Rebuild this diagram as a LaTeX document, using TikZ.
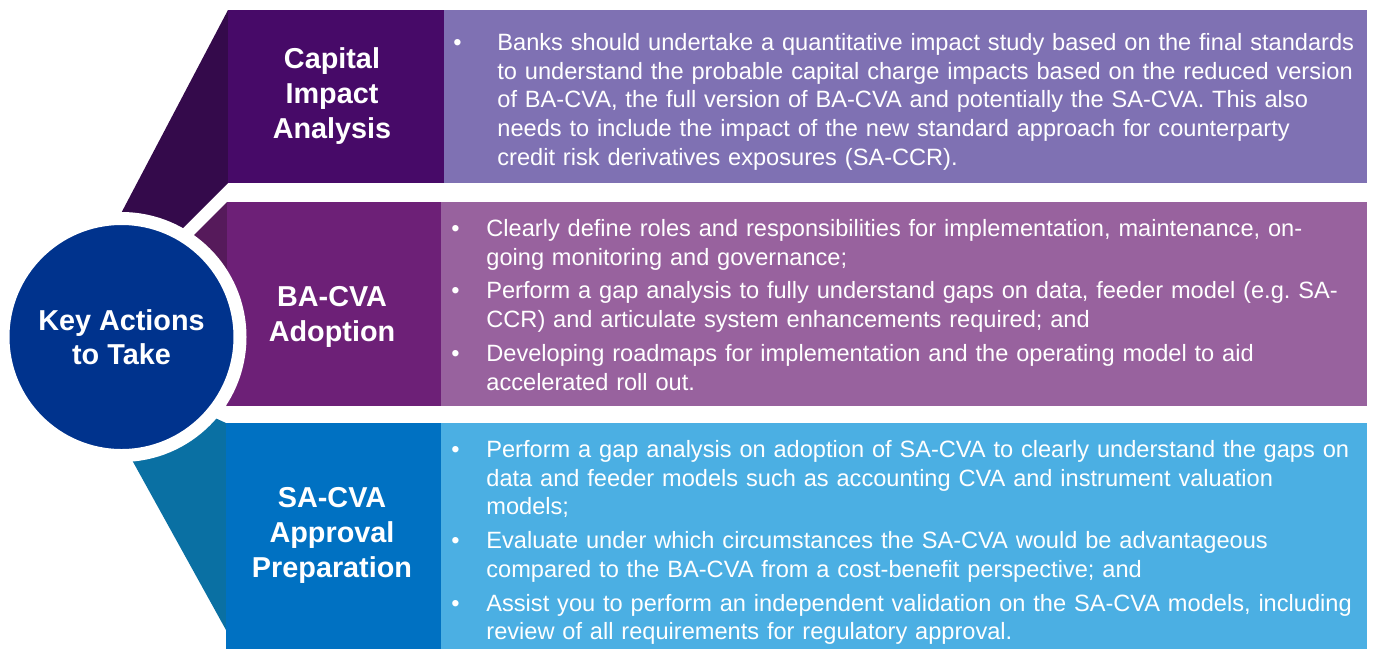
\documentclass[tikz,border=0pt]{standalone}
\usepackage{fontspec}
\setmainfont{Liberation Sans}
\usetikzlibrary{positioning}

\definecolor{kpurple}{HTML}{470A68}
\definecolor{kpurplelight}{HTML}{6D2077}
\definecolor{kblue}{HTML}{00338D}
\definecolor{kmidblue}{HTML}{0071C2}
\definecolor{violetbody}{HTML}{7F71B3}
\definecolor{purplebody}{HTML}{98629E}
\definecolor{bluebody}{HTML}{4BAFE3}
\definecolor{funneltop}{HTML}{340A4B}
\definecolor{funnelmid}{HTML}{561A5B}
\definecolor{funnellow}{HTML}{0A70A3}

% one bullet with its lines, hanging indent #1
\newcommand{\keypoint}[2]{\makebox[#1][l]{\textbullet}\begin{tabular}[t]{@{}l@{}}#2\end{tabular}}

\frenchspacing

\begin{document}
\begin{tikzpicture}[
    x=0.5pt, y=-0.5pt,
    head/.style={
        rectangle,
        anchor=north west,
        inner sep=0pt,
        outer sep=0pt
    },
    body/.style={
        rectangle,
        inner sep=0pt,
        outer sep=0pt
    },
    headtext/.style={
        text=white,
        align=center,
        font=\bfseries\fontsize{14.4}{17.5}\selectfont
    },
    points/.style={
        text=white,
        anchor=north west,
        inner sep=0pt,
        text width=460pt,
        align=left,
        font=\fontsize{11.8}{14.375}\selectfont
    },
    hub/.style={
        circle,
        fill=kblue,
        draw=white,
        line width=6.5pt,
        minimum size=118.5pt,
        inner sep=0pt,
        text=white,
        align=center,
        font=\bfseries\fontsize{14.4}{17}\selectfont
    }
]
\useasboundingbox (0,0) rectangle (1375,649);

% Funnel pieces (the hub covers their inner ends)
\fill[funneltop] (228,10) -- (228,183) -- (150,261) -- (86,280) -- cycle;
\fill[funnelmid] (227,202) -- (227,406) -- (170,360) -- (160,269) -- cycle;
\fill[funnellow] (226,423) -- (226,630) -- (85,375) -- (180,402) -- cycle;

% Heads
\node[head, fill=kpurple, minimum width=108pt, minimum height=86.5pt] (capital) at (228,10) {};
\node[head, fill=kpurplelight, minimum width=107pt, minimum height=102pt] (adoption) at (227,202) {};
\node[head, fill=kmidblue, minimum width=107.5pt, minimum height=113pt] (approval) at (226,423) {};

% Bodies
\node[body, fill=violetbody, right=0pt of capital, minimum width=461.5pt, minimum height=86.5pt] (capitalbody) {};
\node[body, fill=purplebody, right=0pt of adoption, minimum width=463pt, minimum height=102pt] (adoptionbody) {};
\node[body, fill=bluebody, right=0pt of approval, minimum width=463pt, minimum height=113pt] (approvalbody) {};

% Hub
\node[hub] (hub) at (121.5,337) {Key Actions\\to Take};

% Head titles
\node[headtext] (capitaltitle) at (332,96) {Capital\\Impact\\Analysis};
\node[headtext] (adoptiontitle) at (332,317) {BA-CVA\\Adoption};
\node[headtext] (approvaltitle) at (332,535) {SA-CVA\\Approval\\Preparation};

% Bullet points
\node[points] (capitalpoints) at (453,29.9) {%
\keypoint{22pt}{Banks should undertake a quantitative impact study based on the final standards\\
to understand the probable capital charge impacts based on the reduced version\\
of BA-CVA, the full version of BA-CVA and potentially the SA-CVA. This also\\
needs to include the impact of the new standard approach for counterparty\\
credit risk derivatives exposures (SA-CCR).}};

\node[points] (adoptionpoints) at (451,215.9) {%
\keypoint{17.5pt}{Clearly define roles and responsibilities for implementation, maintenance, on-\\
going monitoring and governance;}\\[1.5pt]
\keypoint{17.5pt}{Perform a gap analysis to fully understand gaps on data, feeder model (e.g. SA-\\
CCR) and articulate system enhancements required; and}\\[1.5pt]
\keypoint{17.5pt}{Developing roadmaps for implementation and the operating model to aid\\
accelerated roll out.}};

\node[points] (approvalpoints) at (451,436.9) {%
\keypoint{17.5pt}{Perform a gap analysis on adoption of SA-CVA to clearly understand the gaps on\\
data and feeder models such as accounting CVA and instrument valuation\\
models;}\\[1.5pt]
\keypoint{17.5pt}{Evaluate under which circumstances the SA-CVA would be advantageous\\
compared to the BA-CVA from a cost-benefit perspective; and}\\[1.5pt]
\keypoint{17.5pt}{Assist you to perform an independent validation on the SA-CVA models, including\\
review of all requirements for regulatory approval.}};

\end{tikzpicture}
\end{document}
